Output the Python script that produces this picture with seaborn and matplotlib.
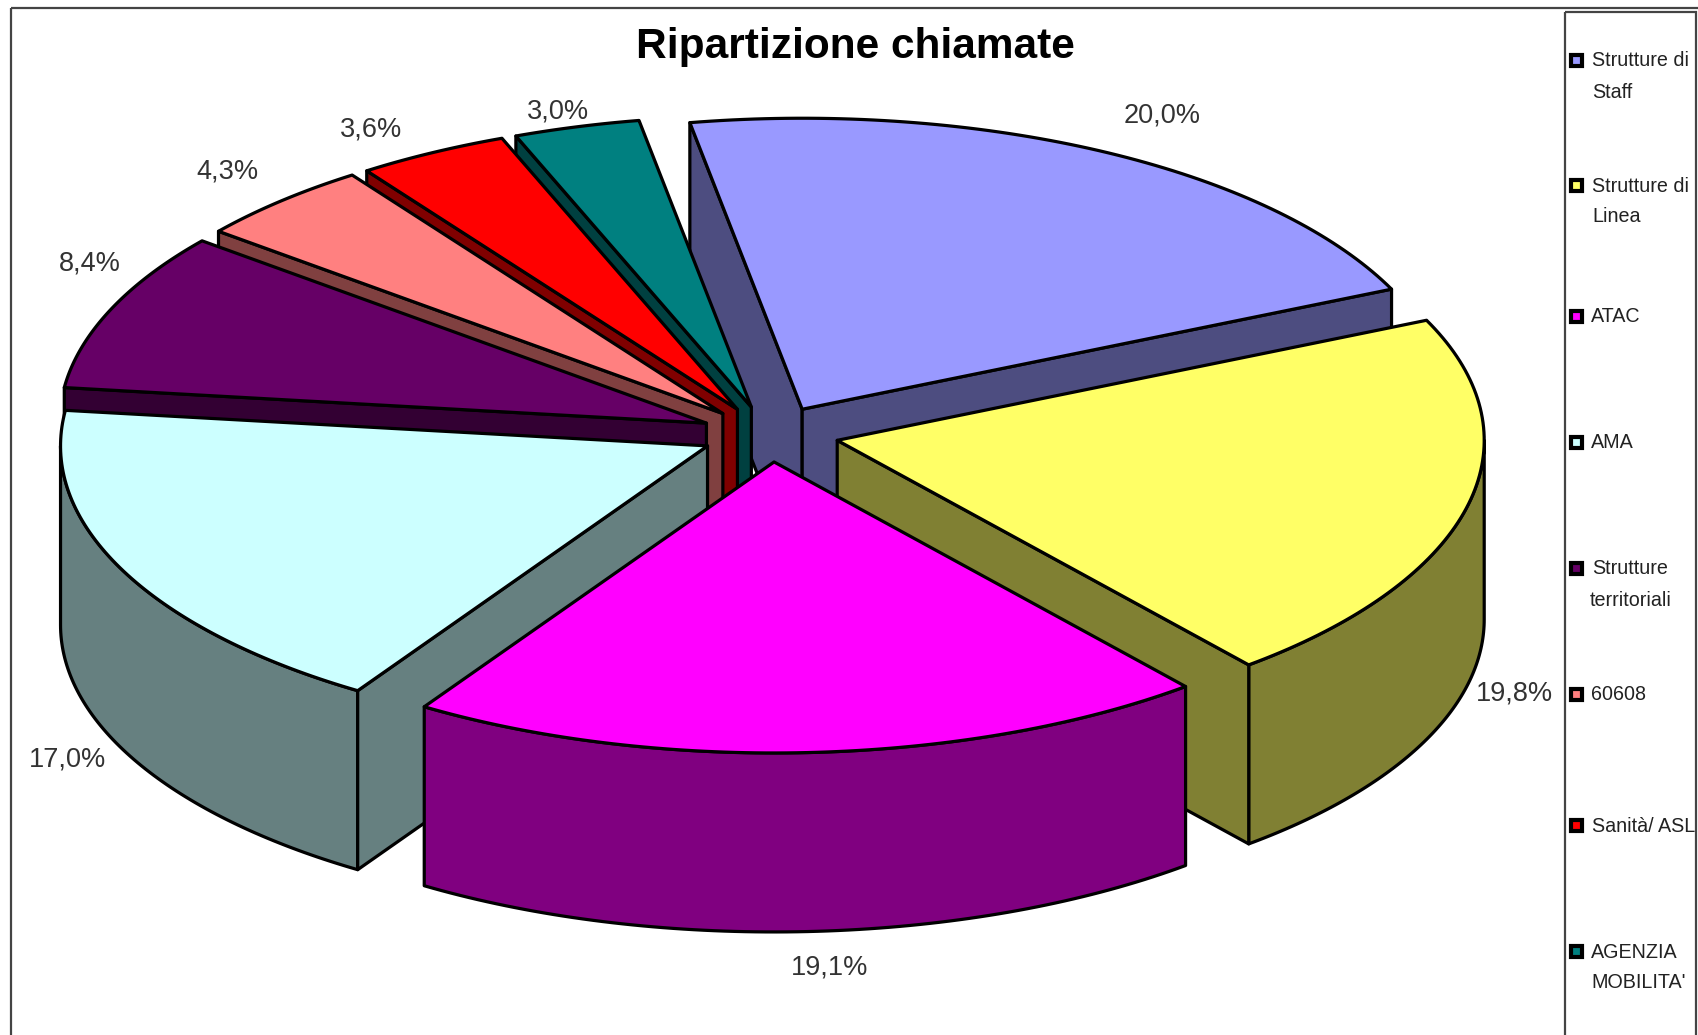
import numpy as np
import matplotlib
matplotlib.use("Agg")
import matplotlib.pyplot as plt
from matplotlib.patches import Rectangle
import seaborn as sns

# Chart values
labels = ["Strutture di\nStaff", "Strutture di\nLinea", "ATAC", "AMA", "Strutture\nterritoriali",
          "60608", "Sanità/ ASL", "AGENZIA\nMOBILITA'"]
values = [20.0, 19.8, 19.1, 17.0, 8.4, 4.3, 3.6, 3.0]
top_colors = ["#9999FF", "#FFFF66", "#FF00FF", "#CCFFFF", "#660066", "#FF8080", "#FF0000", "#008080"]

# Positions of text, in image pixels
value_label_x = [1162, 1514, 830, 68, 90, 227, 371, 558]
value_label_y = [116, 693, 967, 759, 264, 172, 130, 112]
legend_y = [60, 185, 316, 442, 568, 694, 825, 951]
legend_text_x = [[1592, 1592], [1592, 1592], [1591], [1591], [1592, 1590], [1591], [1592], [1591, 1591]]

# Pie geometry, in image pixels
center_x, center_y = 770, 434
radius_x, radius_y = 647, 291
depth = 179
explode_x, explode_y = 69, 28
start_angle = -10

sns.set_theme(style="white")
plt.rcParams["font.family"] = ["Liberation Sans", "DejaVu Sans"]

fig = plt.figure(figsize=(16.98, 10.35), dpi=100)
ax = fig.add_axes([0, 0, 1, 1])
ax.set_xlim(0, 1698)
ax.set_ylim(1035, 0)
ax.axis("off")

palette = sns.color_palette(top_colors)
side_colors = [tuple(c * 0.5 for c in col) for col in palette]

# Outer frame and legend box
ax.add_patch(Rectangle((11, 8), 1800, 1200, fill=False, ec="#444444", lw=1.6))
ax.add_patch(Rectangle((1565, 12), 131, 1200, fill=False, ec="#444444", lw=1.6))

# Angles clockwise from the top
shares = np.array(values) / sum(values) * 360
ends = start_angle + np.cumsum(shares)
starts = ends - shares


def rim(apex_x, apex_y, angles):
    rad = np.radians(angles)
    return apex_x + radius_x * np.sin(rad), apex_y - radius_y * np.cos(rad)


def draw_poly(xs, ys, color):
    ax.fill(xs, ys, facecolor=color, edgecolor="black", lw=2.3, joinstyle="round")


# Back slices first, front ones paint over them
for i in [0, 7, 6, 5, 4, 1, 3, 2]:
    a0, a1 = starts[i], ends[i]
    mid = np.radians((a0 + a1) / 2)
    ax0 = center_x + explode_x * np.sin(mid)
    ay0 = center_y - explode_y * np.cos(mid)

    # Outer wall, only the part facing the viewer
    lo, hi = max(a0, 90), min(a1, 270)
    if lo < hi:
        xs, ys = rim(ax0, ay0, np.linspace(lo, hi, 80))
        draw_poly(np.r_[xs, xs[::-1]], np.r_[ys, ys[::-1] + depth], side_colors[i])

    # Cut faces
    if np.sin(np.radians(a0)) < 0:
        ex, ey = rim(ax0, ay0, a0)
        draw_poly([ax0, ex, ex, ax0], [ay0, ey, ey + depth, ay0 + depth], side_colors[i])
    if np.sin(np.radians(a1)) > 0:
        ex, ey = rim(ax0, ay0, a1)
        draw_poly([ax0, ex, ex, ax0], [ay0, ey, ey + depth, ay0 + depth], side_colors[i])

    # Top face
    xs, ys = rim(ax0, ay0, np.linspace(a0, a1, 80))
    draw_poly(np.r_[ax0, xs], np.r_[ay0, ys], palette[i])

# Title and value labels
ax.text(855, 47, "Ripartizione chiamate", ha="center", va="center", fontsize=30.5, fontweight="bold", color="black")
for i, v in enumerate(values):
    ax.text(value_label_x[i], value_label_y[i], f"{v:.1f}%".replace(".", ","), ha="center", va="center",
            fontsize=19.5, color="#333333")

# Legend
for i, name in enumerate(labels):
    ax.add_patch(Rectangle((1571.5, legend_y[i] - 5.5), 11, 11, facecolor=palette[i], edgecolor="black", lw=3.0))
    for j, line in enumerate(name.split("\n")):
        ax.text(legend_text_x[i][j], legend_y[i] + 1 + j * 31, line, ha="left", va="center", fontsize=14.2,
                color="#222222")

fig.savefig("out.png", dpi=100, facecolor="white")
